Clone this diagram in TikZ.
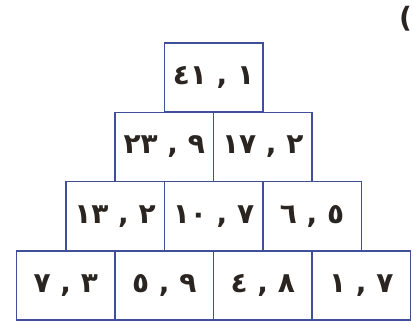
\documentclass[tikz,border=0pt]{standalone}
\usepackage{fontspec}
\newfontfamily\arabicfont{DejaVu Sans}
\definecolor{boxblue}{HTML}{3F4F9A}
\definecolor{digit}{HTML}{2B2521}
\begin{document}
\begin{tikzpicture}[x=1pt,y=-1pt,
  cell/.style={draw=boxblue, line width=1.5pt, minimum width=98.5pt, minimum height=69.25pt,
    inner sep=0pt, text=digit, font=\arabicfont\bfseries\fontsize{28}{32}\selectfont}]
\useasboundingbox (0,0) rectangle (413,327);
\fill[white] (0,0) rectangle (413,327);
% row 1
\node[cell] (a1) at (213.5,77.6) {٤١ , ١};
% row 2
\node[cell] (b1) at (164.25,146.9) {٢٣ , ٩};
\node[cell] (b2) at (262.75,146.9) {١٧ , ٢};
% row 3
\node[cell] (c1) at (115,216.1) {١٣ , ٢};
\node[cell] (c2) at (213.5,216.1) {١٠ , ٧};
\node[cell] (c3) at (312,216.1) {٦ , ٥};
% row 4
\node[cell] (d1) at (65.75,285.4) {٧ , ٣};
\node[cell] (d2) at (164.25,285.4) {٥ , ٩};
\node[cell] (d3) at (262.75,285.4) {٤ , ٨};
\node[cell] (d4) at (361.25,285.4) {١ , ٧};
% parenthesis at top right
\node[text=digit, font=\arabicfont\bfseries\fontsize{28}{32}\selectfont, inner sep=0pt] (paren) at (405.5,19) {(};
\end{tikzpicture}
\end{document}
